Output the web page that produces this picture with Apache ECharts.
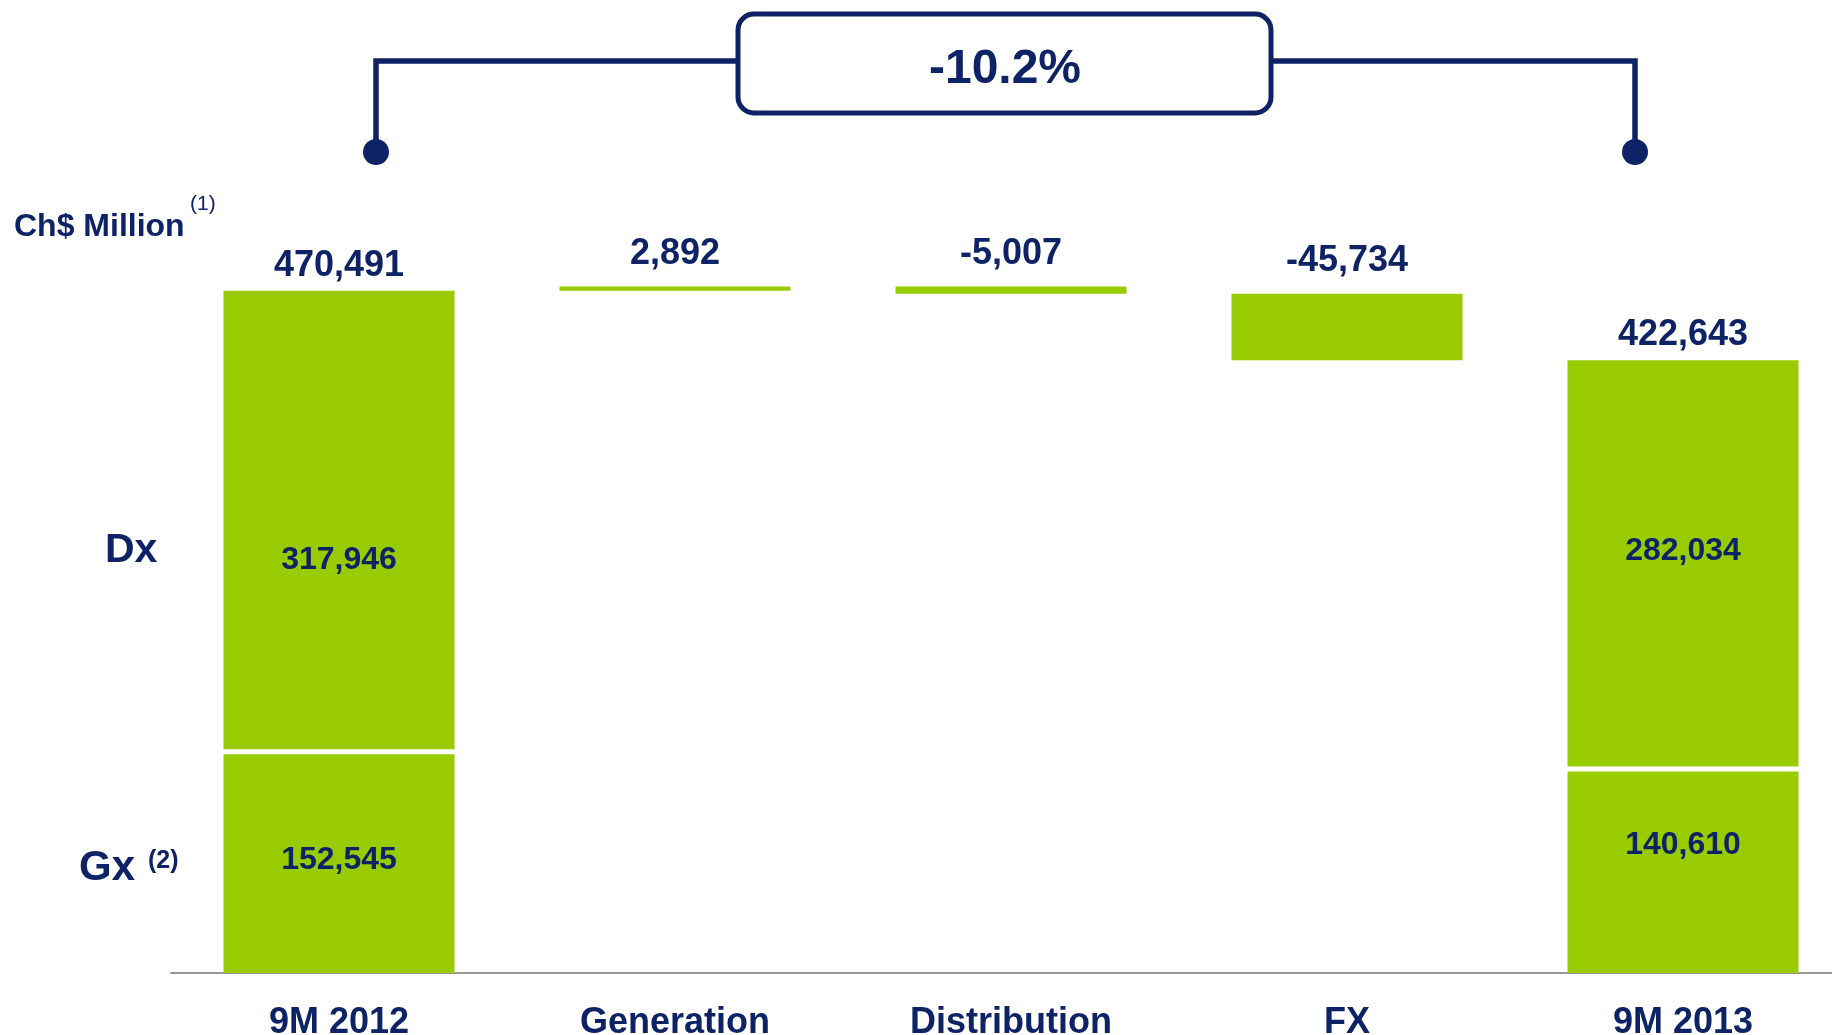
<!DOCTYPE html>
<html>
<head>
<meta charset="utf-8">
<script src="https://cdn.jsdelivr.net/npm/echarts@6/dist/echarts.min.js"></script>
<style>
  html, body { margin: 0; padding: 0; background: #fff; }
  #main { width: 1832px; height: 1035px; }
</style>
</head>
<body>
<div id="main"></div>
<script>
// waterfall data, Ch$ million
const categories = ['9M 2012', 'Generation', 'Distribution', 'FX', '9M 2013'];
const gxValues = [152545, null, null, null, 140610];
const dxValues = [317946, null, null, null, 282034];
const changeValues = [null, 2892, -5007, -45734, null];
const totalValues = [470491, null, null, null, 422643];
const changePct = '-10.2%';

// label nudges to sit where the slide puts them
const dxLabelShift = [39, 0, 0, 0, -13];
const gxLabelShift = [-2, 0, 0, 0, -26];

const navy = '#0E2266';
const green = '#99CC00';
const BAR_W = 231;
const fmt = v => (v < 0 ? '-' : '') + Math.abs(v).toLocaleString('en-US');

// invisible base for the floating bars
let running = totalValues[0];
const baseValues = categories.map((c, i) => {
  if (changeValues[i] == null) return 0;
  if (changeValues[i] >= 0) {
    const b = running;
    running += changeValues[i];
    return b;
  }
  running += changeValues[i];
  return running;
});

// white split line between Gx and Dx, placed at the Gx top
const splitData = [];
gxValues.forEach((v, i) => { if (v != null) splitData.push([i, v]); });

const chart = echarts.init(document.getElementById('main'), null, { renderer: 'canvas' });

chart.setOption({
  animation: false,
  backgroundColor: '#fff',
  textStyle: { fontFamily: 'Liberation Sans, Arial, sans-serif' },
  grid: { left: 171, width: 1680, top: 248, bottom: 62, outerBoundsMode: 'none', containLabel: false },
  xAxis: {
    type: 'category',
    data: categories,
    axisLine: { lineStyle: { color: '#999999', width: 2 } },
    axisTick: { show: false },
    axisLabel: { color: navy, fontSize: 36, fontWeight: 'bold', margin: 32 }
  },
  yAxis: { type: 'value', min: 0, max: 500000, show: false },
  series: [
    {
      name: 'base', type: 'bar', stack: 'w', barWidth: BAR_W,
      itemStyle: { color: 'transparent' },
      data: baseValues
    },
    {
      name: 'Gx', type: 'bar', stack: 'w', barWidth: BAR_W,
      itemStyle: { color: green },
      label: {
        show: true, position: 'inside', color: navy, fontSize: 32, fontWeight: 'bold',
        formatter: p => fmt(p.value)
      },
      data: gxValues.map((v, i) => v == null ? '-' : { value: v, label: { offset: [0, gxLabelShift[i]] } })
    },
    {
      name: 'Dx', type: 'bar', stack: 'w', barWidth: BAR_W,
      itemStyle: { color: green },
      label: {
        show: true, position: 'inside', color: navy, fontSize: 32, fontWeight: 'bold',
        formatter: p => fmt(p.value)
      },
      data: dxValues.map((v, i) => v == null ? '-' : { value: v, label: { offset: [0, dxLabelShift[i]] } })
    },
    {
      name: 'change', type: 'bar', stack: 'w', barWidth: BAR_W,
      itemStyle: { color: green },
      label: {
        show: true, position: 'top', distance: 15, color: navy, fontSize: 36, fontWeight: 'bold',
        formatter: p => fmt(changeValues[p.dataIndex])
      },
      data: changeValues.map(v => v == null ? '-' : Math.abs(v))
    },
    {
      name: 'split', type: 'custom', z: 5,
      renderItem: (params, api) => {
        const p = api.coord([api.value(0), api.value(1)]);
        return {
          type: 'rect',
          shape: { x: p[0] - BAR_W / 2 - 1, y: p[1] - 2.5, width: BAR_W + 2, height: 5 },
          style: { fill: '#fff' }
        };
      },
      data: splitData
    },
    {
      name: 'total', type: 'scatter', symbolSize: 0,
      itemStyle: { opacity: 1 },
      label: {
        show: true, position: 'top', distance: 7, color: navy, fontSize: 36, fontWeight: 'bold',
        formatter: p => fmt(p.value)
      },
      data: totalValues.map(v => v == null ? '-' : v)
    }
  ],
  graphic: [
    // bracket between the two totals
    { type: 'polyline', shape: { points: [[376, 152], [376, 61], [738, 61]] },
      style: { stroke: navy, lineWidth: 5.5, fill: null } },
    { type: 'polyline', shape: { points: [[1271, 61], [1635, 61], [1635, 152]] },
      style: { stroke: navy, lineWidth: 5.5, fill: null } },
    { type: 'circle', shape: { cx: 376, cy: 152, r: 13 }, style: { fill: navy } },
    { type: 'circle', shape: { cx: 1635, cy: 152, r: 13 }, style: { fill: navy } },
    { type: 'rect', shape: { x: 738, y: 14, width: 533, height: 99, r: 16 },
      style: { fill: '#fff', stroke: navy, lineWidth: 5 } },
    { type: 'text', x: 1005, y: 70,
      style: { text: changePct, fill: navy, font: 'bold 48px Liberation Sans, Arial, sans-serif',
               align: 'center', verticalAlign: 'middle' } },
    // unit and segment captions
    { type: 'text', x: 14, y: 227,
      style: { text: 'Ch$ Million', fill: navy, font: 'bold 32px Liberation Sans, Arial, sans-serif',
               verticalAlign: 'middle' } },
    { type: 'text', x: 190, y: 204,
      style: { text: '(1)', fill: navy, font: '21px Liberation Sans, Arial, sans-serif',
               verticalAlign: 'middle' } },
    { type: 'text', x: 105, y: 551,
      style: { text: 'Dx', fill: navy, font: 'bold 41px Liberation Sans, Arial, sans-serif',
               verticalAlign: 'middle' } },
    { type: 'text', x: 79, y: 868,
      style: { text: 'Gx', fill: navy, font: 'bold 42px Liberation Sans, Arial, sans-serif',
               verticalAlign: 'middle' } },
    { type: 'text', x: 148, y: 861,
      style: { text: '(2)', fill: navy, font: 'bold 25px Liberation Sans, Arial, sans-serif',
               verticalAlign: 'middle' } }
  ]
});
</script>
</body>
</html>
